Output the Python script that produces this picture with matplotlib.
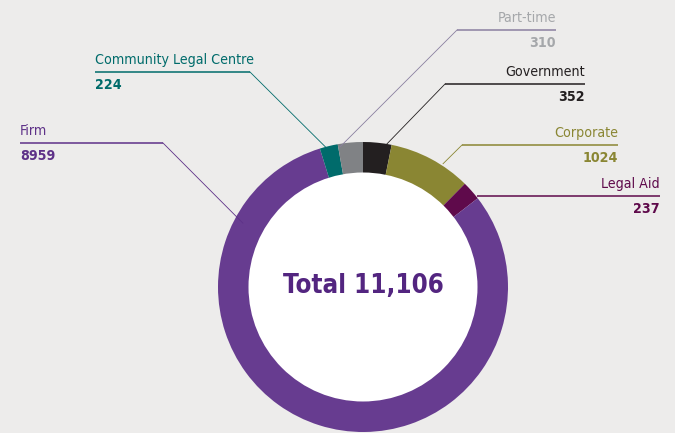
import numpy as np
import matplotlib
matplotlib.use("Agg")
import matplotlib.pyplot as plt
from matplotlib.patches import Circle
from matplotlib import font_manager as fm

# data (clockwise from 12 o'clock)
categories = ["Government", "Corporate", "Legal Aid", "Firm", "Community Legal Centre", "Part-time"]
values = [352, 1024, 237, 8959, 224, 310]
total = sum(values)

slice_colors = ["#231f20", "#8a8633", "#5f0a4b", "#673c90", "#006b6b", "#808285"]
text_colors = ["#231f20", "#8a8633", "#5f0a4b", "#5e3188", "#006b6b", "#a5a7aa"]
line_colors = ["#231f20", "#8a8633", "#5f0a4b", "#5e3188", "#006b6b", "#8a7fa0"]

# label layout in pixels (y measured from the top): text edge x, line y, elbow x, side, attach angle (deg from top, clockwise)
label_x = [585, 618, 660, 20, 95, 556]
label_line_y = [84, 145, 196, 143, 72, 30]
elbow_x = [445, 462, None, 163, 250, 457]
side = ["right", "right", "right", "left", "left", "right"]
attach_deg = [9.2, 33, 51.5, 298, 345, 350.7]
attach_r = [144, 147, 146, 136, 145, 142]

W, H = 675, 433
BG = "#edeceb"


def find_condensed(bold):
    # look for a narrow / condensed sans face among the installed fonts
    best = None
    for f in fm.fontManager.ttflist:
        name = (f.name + " " + f.fname).lower()
        narrow = "narrow" in name or "condensed" in name or f.stretch in ("condensed", "semi-condensed")
        if not narrow or "mono" in name or "serif" in name and "sans" not in name:
            continue
        if "italic" in name or "oblique" in name or f.style != "normal":
            continue
        w = f.weight if isinstance(f.weight, int) else (700 if "bold" in str(f.weight) else 400)
        target = 700 if bold else 400
        score = abs(w - target)
        if "light" in name or "thin" in name or "black" in name or "extra" in name or "semi" in name:
            score += 150
        if best is None or score < best[0]:
            best = (score, f.fname)
    if best is None:
        return fm.FontProperties(family="DejaVu Sans", weight="bold" if bold else "normal")
    return fm.FontProperties(fname=best[1])


REG = find_condensed(False)
BOLD = find_condensed(True)

fig = plt.figure(figsize=(W / 100, H / 100), dpi=100, facecolor=BG)
ax = fig.add_axes([0, 0, 1, 1])

cx, cy, R = 363, H - 287, 145
ax.pie(values, colors=slice_colors, startangle=90, counterclock=False,
       center=(cx, cy), radius=R, frame=True,
       wedgeprops=dict(width=R, linewidth=0))
ax.set_xlim(0, W)
ax.set_ylim(0, H)
ax.set_aspect("equal")
ax.axis("off")
ax.add_patch(Circle((cx, cy), 114.5, facecolor="white", edgecolor="none", zorder=3))

p = BOLD.copy()
p.set_size(18.5)
ax.text(cx, cy + 1, f"Total {total:,}", ha="center", va="center",
        fontproperties=p, color="#532580", zorder=4)

for i, name in enumerate(categories):
    ly = H - label_line_y[i]
    th = np.deg2rad(90 - attach_deg[i])
    px = cx + attach_r[i] * np.cos(th)
    py = cy + attach_r[i] * np.sin(th)
    ex = elbow_x[i] if elbow_x[i] is not None else px
    ax.plot([label_x[i], ex], [ly, ly], color=line_colors[i], lw=1.1,
            solid_capstyle="butt", zorder=5)
    if elbow_x[i] is not None:
        ax.plot([ex, px], [ly, py], color=line_colors[i], lw=0.6, zorder=5)
    ha = "right" if side[i] == "right" else "left"
    pr = REG.copy()
    pr.set_size(10.2)
    pb = BOLD.copy()
    pb.set_size(10.2)
    ax.text(label_x[i], ly + 5, name, ha=ha, va="bottom", fontproperties=pr,
            color=text_colors[i], zorder=5)
    ax.text(label_x[i], ly - 6, f"{values[i]}", ha=ha, va="top", fontproperties=pb,
            color=text_colors[i], zorder=5)

fig.savefig("out.png", dpi=100, facecolor=BG)
